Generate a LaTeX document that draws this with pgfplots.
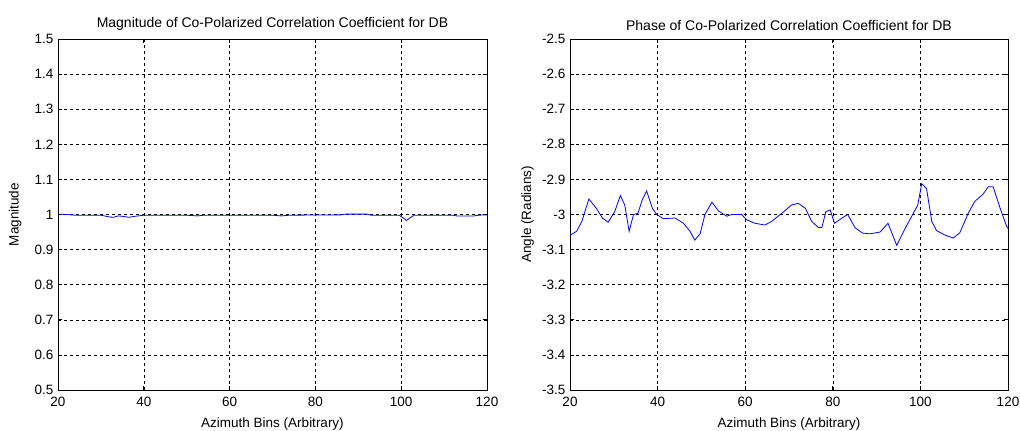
\documentclass[border=0pt]{standalone}
\usepackage{fontspec}
\setmainfont{Liberation Sans}
\usepackage{pgfplots}
\pgfplotsset{compat=1.18}
\begin{document}
\fontsize{13.5pt}{15pt}\selectfont
\begin{tikzpicture}
\path[use as bounding box] (0pt,0pt) rectangle (1020pt,431pt);
\pgfplotsset{
  every axis/.append style={
    scale only axis,
    anchor=south west,
    xmin=20, xmax=120,
    xtick={20,40,...,120},
    grid=major,
    major grid style={black, dashed, line width=0.5pt, dash pattern=on 3pt off 3pt},
    axis line style={black, line width=0.7pt},
    tick style={black, line width=0.7pt},
    major tick length=4pt,
    tick align=inside,
    /pgf/number format/assume math mode=true,
    ticklabel style={font=\fontsize{13.5pt}{15pt}\selectfont},
    label style={font=\fontsize{13.5pt}{15pt}\selectfont},
    title style={font=\fontsize{14pt}{16pt}\selectfont, yshift=-2pt},
    xlabel style={yshift=-2pt},
    xticklabel style={yshift=-2pt},
    axis background/.style={fill=white},
  }
}
\begin{axis}[
  at={(58pt,41pt)},
  width=429pt, height=351pt,
  ymin=0.5, ymax=1.5,
  ytick={0.5,0.6,...,1.51},
  yticklabel style={/pgf/number format/fixed, /pgf/number format/precision=1},
  title={Magnitude of Co-Polarized Correlation Coefficient for DB},
  xlabel={Azimuth Bins (Arbitrary)},
  ylabel={Magnitude},
  ylabel style={yshift=4pt},
]
\addplot[blue, line width=0.8pt] coordinates {
(20,1.001) (22,1.000) (24,0.998) (30,0.998) (32,0.993) (33,0.992) (34,0.996)
(35,0.995) (36.5,0.992) (38,0.995) (40,0.998) (50,0.998) (52.5,0.996) (54,0.998)
(60,0.998) (70,0.998) (72,0.996) (74,0.998) (86,0.999) (87,1.001) (92,1.001)
(93,0.998) (99.5,0.998) (100.5,0.99) (101.2,0.983) (102,0.99) (103,0.998)
(112,0.998) (113,0.996) (117,0.996) (118,0.998) (120,0.999)
};
\end{axis}
\begin{axis}[
  at={(570pt,41pt)},
  width=438pt, height=351pt,
  ymin=-3.5, ymax=-2.5,
  ytick={-3.5,-3.4,...,-2.49},
  yticklabel style={/pgf/number format/fixed, /pgf/number format/precision=1},
  title={Phase of Co-Polarized Correlation Coefficient for DB},
  xlabel={Azimuth Bins (Arbitrary)},
  ylabel={Angle (Radians)},
  ylabel style={yshift=-1pt},
]
\addplot[blue, line width=0.8pt] coordinates {
(20,-3.059) (21.5,-3.048) (22.7,-3.02) (24.3,-2.956) (26,-2.982) (27.4,-3.01)
(28.7,-3.022) (30.2,-2.992) (31.5,-2.946) (32.5,-2.973) (33.5,-3.048) (34.5,-3.0)
(35.5,-2.997) (36.5,-2.958) (37.5,-2.933) (38.8,-2.982) (39.8,-3.0) (41.3,-3.012)
(44,-3.01) (45.9,-3.025) (47.4,-3.048) (48.5,-3.073) (49.7,-3.055) (50.8,-3.0)
(52.4,-2.965) (53.9,-2.99) (55.8,-3.005) (56.9,-3.0) (59.2,-3.0) (60.3,-3.015)
(62.2,-3.025) (64.5,-3.03) (66,-3.02) (68.3,-2.997) (70.6,-2.973) (72.1,-2.968)
(73.7,-2.982) (75.2,-3.02) (76.7,-3.037) (77.5,-3.037) (78.4,-2.992) (79.4,-2.987)
(80.4,-3.025) (82.1,-3.01) (83.4,-3.0) (85.1,-3.038) (86.8,-3.053) (88.5,-3.055)
(90.8,-3.05) (92.6,-3.025) (94.6,-3.088) (96.5,-3.04) (98.8,-2.987) (99.4,-2.973)
(100.3,-2.912) (101.4,-2.926) (102.6,-3.02) (103.7,-3.046) (105.5,-3.058)
(107.5,-3.067) (109,-3.052) (110.9,-2.997) (112.4,-2.963) (114.3,-2.942)
(115.5,-2.921) (116.6,-2.921) (118.2,-2.982) (119.7,-3.034) (120,-3.04)
};
\end{axis}
\end{tikzpicture}
\end{document}
